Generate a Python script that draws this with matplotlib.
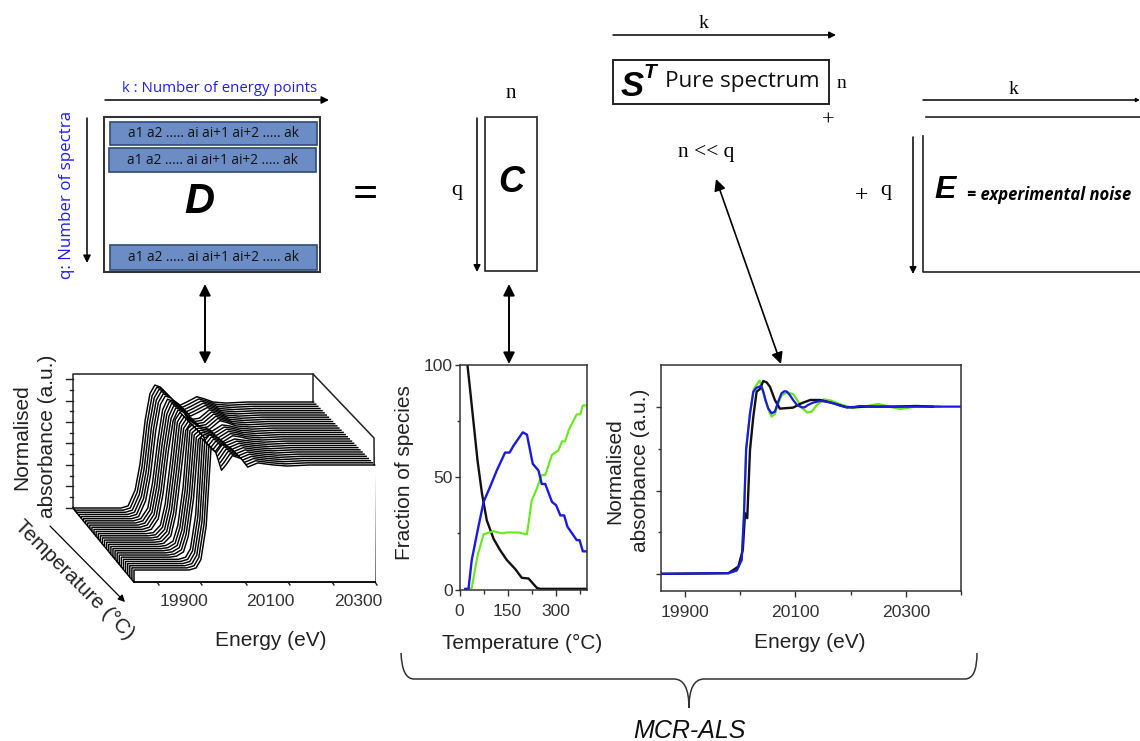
import numpy as np
import matplotlib
matplotlib.use('Agg')
import matplotlib.pyplot as plt
from matplotlib.patches import Rectangle, PathPatch
from matplotlib.path import Path

W = 1140
H = 741

SANS = 'Liberation Sans'
SERIF = 'Liberation Serif'
BODY = 'Open Sans'
BLUE_TEXT = '#2020e8'
BAR_BLUE = '#6b8cc4'
BAR_EDGE = '#2f4a78'
TICK_COL = '#333333'
LABEL_COL = '#222222'
GREEN = '#66e81a'
BLUE = '#1a1ae0'

# fraction of species panel
temp_black = [25, 33, 44, 56, 70, 85, 106, 127, 147, 173, 194, 215, 241, 251, 397]
frac_black = [99.7, 89, 74, 57.6, 42.7, 30.8, 22.6, 17.4, 13.2, 9.2, 5.2, 4.9, 0.7, 0.3, 0.3]
temp_blue = [18, 28, 38, 56, 75, 96, 116, 142, 156, 168, 197, 210, 228, 246, 256, 267, 288,
             301, 314, 326, 336, 365, 374, 384, 397]
frac_blue = [0.3, 0.3, 13, 26, 39, 46, 53, 61, 61, 64, 70, 69, 56, 53, 47, 47, 39,
             37.5, 33, 33, 28, 22, 22, 17, 17]
temp_green = [28, 38, 56, 75, 106, 132, 147, 184, 210, 225, 241, 256, 267, 288, 308, 319,
              329, 340, 365, 376, 384, 397]
frac_green = [0.3, 0.7, 15, 24.6, 26, 25, 25.4, 25.4, 24.6, 39.7, 45, 51, 51, 60, 62, 66,
              66, 71, 78, 78, 82, 82]

# pure spectra panel
en_blue = [19856, 19979, 19994, 20003, 20007, 20011, 20018, 20024, 20030, 20038, 20042, 20046, 20051,
           20057, 20063, 20069, 20075, 20080, 20084, 20090, 20096, 20103, 20111, 20117, 20123, 20132,
           20145, 20157, 20169, 20181, 20193, 20205, 20217, 20247, 20399]
abs_blue = [0, 0.004, 0.02, 0.084, 0.344, 0.744, 0.964, 1.094, 1.118, 1.128, 1.094, 1.044, 0.994,
            0.964, 0.974, 1.034, 1.084, 1.096, 1.096, 1.074, 1.044, 1.014, 1.0, 1.0, 1.014, 1.028,
            1.038, 1.034, 1.024, 1.01, 1.0, 1.0, 1.008, 1.004, 1.004]
en_green = [19979, 19994, 20003, 20007, 20011, 20018, 20025, 20035, 20040, 20046, 20052, 20057, 20063,
            20069, 20075, 20084, 20096, 20104, 20111, 20122, 20130, 20138, 20151, 20165, 20180, 20204,
            20225, 20250, 20275, 20290, 20320, 20361]
abs_green = [0.004, 0.02, 0.084, 0.36, 0.76, 0.96, 1.11, 1.16, 1.12, 1.04, 0.98, 0.944, 0.96,
             1.02, 1.07, 1.09, 1.08, 1.04, 1.0, 0.968, 0.975, 1.01, 1.048, 1.04, 1.02, 0.995,
             1.005, 1.02, 1.0, 0.99, 1.005, 1.005]
en_black = [19856, 19979, 19997, 20005, 20009, 20013, 20018, 20024, 20030, 20036, 20042, 20048, 20054, 20063,
            20072, 20096, 20111, 20127, 20145, 20169, 20193, 20229, 20277, 20319, 20349]
abs_black = [0, 0.004, 0.044, 0.144, 0.364, 0.334, 0.744, 0.944, 1.094, 1.11, 1.158, 1.15, 1.124, 1.044,
             0.992, 0.998, 1.024, 1.044, 1.044, 1.024, 1.0, 1.004, 1.004, 1.008, 1.004]

# waterfall panel, spectra read at five depths from back to front
wf_energy = [19750, 19860, 19876, 19892, 19903, 19915, 19926, 19937, 19950, 19960, 19975, 19995,
             20010, 20033, 20050, 20070, 20100, 20150, 20200, 20300]
wf_profiles = [
    [0, 0, 0.02, 0.17, 0.41, 0.83, 1.08, 1.16, 1.14, 1.09, 1.03, 0.97, 1.0, 1.05, 1.03, 1.0, 0.99, 1, 1, 1],
    [0, 0, 0.02, 0.12, 0.36, 0.76, 1.05, 1.15, 1.13, 1.06, 1.02, 0.96, 0.97, 1.05, 1.03, 1.0, 0.99, 1, 1, 1],
    [0, 0, 0.01, 0.08, 0.28, 0.68, 1.08, 1.15, 1.08, 1.0, 1.02, 1.0, 0.97, 1.03, 1.02, 1.0, 0.99, 1, 1, 1],
    [0, 0, 0.01, 0.05, 0.2, 0.56, 1.12, 1.16, 1.0, 0.98, 1.06, 1.03, 0.98, 1.02, 1.01, 1, 0.99, 1, 1, 1],
    [0, 0, 0, 0.02, 0.1, 0.42, 1.16, 1.12, 0.95, 1.0, 1.09, 1.06, 0.98, 1.02, 1.01, 1.0, 0.99, 1, 1, 1],
]
wf_lines_per_profile = 6

row_text = 'a1 a2 ..... ai ai+1 ai+2 ..... ak'


def px_axes(fig, left, top, right, bottom):
    return fig.add_axes([left / W, 1 - bottom / H, (right - left) / W, (bottom - top) / H])


def project(energy, height, depth):
    # pseudo 3d: depth 0 is the back wall, 1 the front edge
    x = 73 + (np.asarray(energy) - 19750) * 0.4375 + 61 * depth
    y = 508 + 62 * depth - (106 - depth) * np.asarray(height)
    return x, y


def arrow(ax, x0, y0, x1, y1, style='-|>', lw=1.3, scale=14):
    ax.annotate('', xy=(x1, y1), xytext=(x0, y0),
                arrowprops=dict(arrowstyle=style, color='black', lw=lw, mutation_scale=scale,
                                shrinkA=0, shrinkB=0))


fig = plt.figure(figsize=(W / 100, H / 100), dpi=100, facecolor='white')

# fraction panel
ax1 = px_axes(fig, 459.5, 365, 587, 589.5)
ax1.plot(temp_black, frac_black, color='#111111', lw=1.7)
ax1.plot(temp_green, frac_green, color=GREEN, lw=1.5)
ax1.plot(temp_blue, frac_blue, color=BLUE, lw=1.7)
ax1.set_xlim(0, 397)
ax1.set_ylim(0, 100)
ax1.set_xticks([0, 150, 300])
ax1.set_xticks([75, 225, 375], minor=True)
ax1.set_yticks([0, 50, 100])
ax1.set_yticks([25, 75], minor=True)

# pure spectra panel
ax2 = px_axes(fig, 660.5, 365, 960.5, 590.5)
ax2.plot(en_green, abs_green, color=GREEN, lw=1.6)
ax2.plot(en_black, abs_black, color='#111111', lw=1.7)
ax2.plot(en_blue, abs_blue, color=BLUE, lw=1.6)
ax2.set_xlim(19856, 20399)
ax2.set_ylim(-0.1, 1.254)
ax2.set_xticks([19900, 20100, 20300])
ax2.set_xticks([20000, 20200, 20399], minor=True)
ax2.set_yticks([0, 0.5, 1])
ax2.set_yticks([0.25, 0.75], minor=True)
ax2.set_yticklabels([])

for ax in (ax1, ax2):
    for side in ax.spines:
        ax.spines[side].set_linewidth(1.1)
        ax.spines[side].set_color('#333333')
    ax.tick_params(axis='x', which='major', length=4.4, width=1, colors=TICK_COL, labelsize=12.6, pad=6)
    ax.tick_params(axis='x', which='minor', length=3.2, width=1, colors=TICK_COL)
    ax.tick_params(axis='y', which='major', length=3.4, width=1, colors=TICK_COL, labelsize=12.6, pad=1.5)
    ax.tick_params(axis='y', which='minor', length=2.2, width=1, colors=TICK_COL)
    for lab in ax.get_xticklabels() + ax.get_yticklabels():
        lab.set_family(SANS)

# overlay in pixel coordinates for the schematic and the waterfall
ov = fig.add_axes([0, 0, 1, 1], facecolor='none')
ov.set_xlim(0, W)
ov.set_ylim(H, 0)
ov.axis('off')


def label(x, y, txt, rotation=0):
    ov.text(x, y, txt, fontsize=15, family=SANS, color=LABEL_COL, rotation=rotation,
            rotation_mode='anchor', ha='center', va='center')


label(522, 643, 'Temperature (°C)')
label(404, 473, 'Fraction of species', 90)
label(810, 642, 'Energy (eV)')
label(615, 471, 'Normalised', 90)
label(640, 470, 'absorbance (a.u.)', 90)

# waterfall frame
ov.plot([73, 73, 313, 313], [508, 374, 374, 404], color='#222222', lw=1.1, zorder=1)
ov.plot([313, 374, 375], [374, 438, 582], color='#222222', lw=1.1, zorder=1)
ov.plot([73, 134, 375], [508, 582, 582], color='black', lw=1.3, zorder=1)

n_lines = len(wf_profiles) * wf_lines_per_profile
for i in range(n_lines):
    depth = i / (n_lines - 1)
    profile = wf_profiles[i // wf_lines_per_profile]
    x, y = project(wf_energy, profile, depth)
    skirt = 508 + 74 * depth
    ov.fill_between(x, y, skirt, color='white', lw=0, zorder=2 + i * 0.01)
    ov.plot(np.r_[x[0], x], np.r_[skirt, y], color='black', lw=1.05, zorder=2 + i * 0.01,
            solid_joinstyle='round')
ov.plot([134, 375], [582, 582], color='black', lw=1.3, zorder=3)

for tick_y in [379, 401, 422, 443, 465, 486, 508]:
    ov.plot([66, 73], [tick_y, tick_y], color='#222222', lw=1)
for tick_y in [390, 411, 433, 454, 476, 497]:
    ov.plot([69.5, 73], [tick_y, tick_y], color='#222222', lw=1)
for tick_x in [157, 200, 245, 288, 332, 375]:
    ov.plot([tick_x, tick_x + 2], [582, 585], color='#222222', lw=1)

for lx, txt in [(184, '19900'), (270, '20100'), (358, '20300')]:
    ov.text(lx, 601, txt, fontsize=12.6, family=SANS, color=TICK_COL, ha='center', va='center')
label(271, 640, 'Energy (eV)')
label(22, 437, 'Normalised', 90)
label(48, 436, 'absorbance (a.u.)', 90)
label(74, 580, 'Temperature (°C)', -45)
arrow(ov, 50, 526, 125, 602, lw=0.9, scale=10)

# D matrix
ov.add_patch(Rectangle((104, 117), 216, 155, fc='white', ec='#333333', lw=1.5, zorder=3))
for bar_x, bar_y, bar_w, bar_h in [(110, 122, 207, 23), (108.5, 148, 207.5, 24), (110, 245, 207, 25)]:
    ov.add_patch(Rectangle((bar_x, bar_y), bar_w, bar_h, fc=BAR_BLUE, ec=BAR_EDGE, lw=1.2, zorder=4))
    ov.text(bar_x + bar_w / 2, bar_y + bar_h / 2, row_text, fontsize=9.8, family=BODY,
            color='#111111', ha='center', va='center', zorder=5)
ov.text(199, 202, 'D', fontsize=30, family=SANS, weight='bold', style='italic', ha='center', va='center', zorder=5)
arrow(ov, 105, 100, 329, 100, lw=1.1, scale=11)
arrow(ov, 87, 118, 87, 263, lw=1.1, scale=11)
ov.text(220, 89, 'k : Number of energy points', fontsize=10.8, family=BODY, color=BLUE_TEXT, ha='center', va='center')
ov.text(67, 195, 'q: Number of spectra', fontsize=12.2, family=BODY, color=BLUE_TEXT, rotation=90, ha='center', va='center')
ov.text(365, 195, '=', fontsize=32, family=SERIF, weight='bold', ha='center', va='center')

# C matrix
ov.add_patch(Rectangle((485, 117), 52, 154, fc='white', ec='#222222', lw=1.2, zorder=3))
ov.text(511, 182, 'C', fontsize=26, family=SANS, weight='bold', style='italic', ha='center', va='center', zorder=5)
ov.text(511, 94, 'n', fontsize=15, family=SERIF, ha='center', va='center')
ov.text(457, 190, 'q', fontsize=16, family=SERIF, ha='center', va='center')
arrow(ov, 477, 118, 477, 272, lw=1.1, scale=10)

# S^T box
arrow(ov, 613, 35, 836, 35, lw=1.1, scale=10)
ov.text(704, 24, 'k', fontsize=14, family=SERIF, ha='center', va='center')
ov.add_patch(Rectangle((613, 60), 216, 44, fc='white', ec='#222222', lw=1.4, zorder=3))
ov.text(632, 87, 'S', fontsize=25, family=SANS, weight='bold', style='italic', ha='center', va='center', zorder=5)
ov.text(650, 73, 'T', fontsize=15, family=SANS, weight='bold', style='italic', ha='center', va='center', zorder=5)
ov.text(742, 82, 'Pure spectrum', fontsize=16.2, family=BODY, color='#111111', ha='center', va='center', zorder=5)
ov.text(841, 83, 'n', fontsize=14, family=SERIF, ha='center', va='center')
ov.text(828, 121, '+', fontsize=16, family=SERIF, ha='center', va='center')
ov.text(706, 152, 'n << q', fontsize=15.5, family=SERIF, ha='center', va='center')

# E matrix
ov.text(1014, 89, 'k', fontsize=14, family=SERIF, ha='center', va='center')
arrow(ov, 923, 100, 1140, 100, lw=1.1, scale=5)
ov.plot([926, 1140], [117, 117], color='#222222', lw=1.2)
ov.plot([923, 923, 1140], [136, 272, 272], color='#222222', lw=1.2)
arrow(ov, 913, 137, 913, 274, lw=1.1, scale=10)
ov.text(886, 190, 'q', fontsize=16, family=SERIF, ha='center', va='center')
ov.text(862, 196, '+', fontsize=17, family=SERIF, ha='center', va='center')
ov.text(945, 190, 'E', fontsize=23, family=SANS, weight='bold', style='italic', ha='center', va='center')
ov.text(1049, 195, '= experimental noise', fontsize=12, family=BODY, weight='bold', style='italic',
        ha='center', va='center')

# links between matrices and panels
arrow(ov, 205, 284, 205, 364, style='<|-|>', lw=1.4, scale=17)
arrow(ov, 509, 284, 509, 364, style='<|-|>', lw=1.4, scale=17)
arrow(ov, 716, 179, 781, 364, style='<|-|>', lw=1.2, scale=17)

# brace under both panels
brace = Path(
    [(401, 653), (402, 679), (414, 679), (674, 679), (689, 679), (689, 708),
     (689, 679), (704, 679), (965, 679), (977, 679), (977, 653)],
    [Path.MOVETO, Path.CURVE3, Path.CURVE3, Path.LINETO, Path.CURVE3, Path.CURVE3,
     Path.CURVE3, Path.CURVE3, Path.LINETO, Path.CURVE3, Path.CURVE3])
ov.add_patch(PathPatch(brace, fc='none', ec='#333333', lw=1.1))
ov.text(689, 731, 'MCR-ALS', fontsize=18, family=SANS, style='italic', color='#111111', ha='center', va='center')

fig.savefig('out.png', dpi=100, facecolor='white')
